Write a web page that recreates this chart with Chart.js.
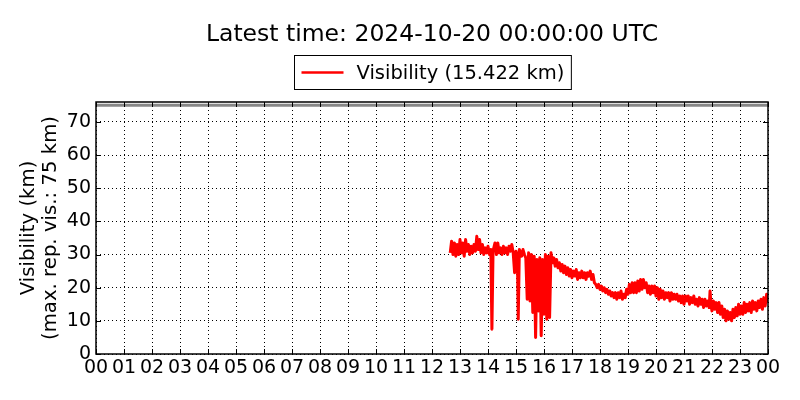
<!DOCTYPE html>
<html>
<head>
<meta charset="utf-8">
<script src="https://cdn.jsdelivr.net/npm/chart.js@4.4.1/dist/chart.umd.min.js"></script>
<style>
html, body { margin: 0; padding: 0; background: #fff; }
</style>
</head>
<body>
<canvas id="visChart" width="800" height="400"></canvas>
<script>
// time of day in hours (UTC) and visibility in km
const hours = [
    12.65, 12.70, 12.75, 12.80, 12.85, 12.90, 12.95, 13.00, 13.05, 13.10,
    13.15, 13.20, 13.25, 13.30, 13.35, 13.40, 13.45, 13.50, 13.55, 13.60,
    13.65, 13.70, 13.75, 13.80, 13.85, 13.90, 13.95, 14.00, 14.05, 14.10,
    14.14, 14.18, 14.25, 14.30, 14.35, 14.40, 14.45, 14.50, 14.55, 14.60,
    14.65, 14.70, 14.75, 14.80, 14.85, 14.90, 14.95, 15.00, 15.05, 15.08,
    15.12, 15.20, 15.25, 15.30, 15.35, 15.40, 15.45, 15.50, 15.55, 15.60,
    15.65, 15.70, 15.75, 15.80, 15.85, 15.90, 15.95, 16.00, 16.05, 16.10,
    16.15, 16.20, 16.25, 16.30, 16.35, 16.40, 16.45, 16.50, 16.55, 16.60,
    16.65, 16.70, 16.75, 16.80, 16.85, 16.90, 16.95, 17.00, 17.05, 17.10,
    17.15, 17.20, 17.25, 17.30, 17.35, 17.40, 17.45, 17.50, 17.55, 17.60,
    17.65, 17.70, 17.75, 17.80, 17.85, 17.90, 17.95, 18.00, 18.05, 18.10,
    18.15, 18.20, 18.25, 18.30, 18.35, 18.40, 18.45, 18.50, 18.55, 18.60,
    18.65, 18.70, 18.75, 18.80, 18.85, 18.90, 18.95, 19.00, 19.05, 19.10,
    19.15, 19.20, 19.25, 19.30, 19.35, 19.40, 19.45, 19.50, 19.55, 19.60,
    19.65, 19.70, 19.75, 19.80, 19.85, 19.90, 19.95, 20.00, 20.05, 20.10,
    20.15, 20.20, 20.25, 20.30, 20.35, 20.40, 20.45, 20.50, 20.55, 20.60,
    20.65, 20.70, 20.75, 20.80, 20.85, 20.90, 20.95, 21.00, 21.05, 21.10,
    21.15, 21.20, 21.25, 21.30, 21.35, 21.40, 21.45, 21.50, 21.55, 21.60,
    21.65, 21.70, 21.75, 21.80, 21.85, 21.90, 21.93, 21.97, 22.00, 22.05,
    22.10, 22.15, 22.20, 22.25, 22.30, 22.35, 22.40, 22.45, 22.50, 22.55,
    22.60, 22.65, 22.70, 22.75, 22.80, 22.85, 22.90, 22.95, 23.00, 23.05,
    23.10, 23.15, 23.20, 23.25, 23.30, 23.35, 23.40, 23.45, 23.50, 23.55,
    23.60, 23.65, 23.70, 23.75, 23.80, 23.85, 23.90, 23.95, 24.00
];
const visKm = [
    30.5, 34.0, 30.0, 33.5, 29.5, 33.0, 30.0, 34.5, 30.5, 33.5,
    29.5, 34.5, 31.0, 33.0, 30.0, 32.5, 30.5, 33.0, 31.0, 35.5,
    31.5, 34.5, 30.5, 33.0, 30.0, 32.0, 30.5, 32.5, 30.0, 31.5,
    7.5, 31.0, 33.5, 30.0, 33.5, 30.5, 32.0, 30.0, 32.5, 30.5,
    32.0, 30.0, 32.5, 31.0, 33.0, 30.5, 24.5, 31.0, 29.5, 10.5,
    31.5, 29.5, 31.5, 30.0, 29.0, 16.5, 30.5, 16.0, 30.0, 12.5,
    29.5, 5.0, 28.5, 13.0, 29.0, 5.5, 28.5, 12.0, 30.0, 10.5,
    29.5, 11.0, 30.5, 27.5, 29.0, 26.5, 28.5, 26.0, 27.5, 25.0,
    27.0, 24.5, 26.5, 24.0, 26.0, 23.5, 25.5, 23.0, 25.0, 23.5,
    25.5, 22.5, 24.5, 23.0, 25.0, 23.0, 24.5, 22.5, 24.5, 23.5,
    25.0, 22.5, 24.0, 21.5, 21.0, 20.0, 21.0, 19.5, 20.5, 19.0,
    20.0, 18.5, 19.5, 18.0, 19.0, 17.5, 18.5, 17.0, 18.5, 16.5,
    18.5, 17.0, 19.0, 16.5, 18.0, 17.0, 19.5, 18.0, 21.0, 18.5,
    21.5, 18.5, 21.5, 18.5, 22.0, 19.0, 22.5, 19.5, 22.5, 20.0,
    21.5, 18.5, 20.5, 18.0, 20.5, 18.5, 20.5, 17.5, 20.0, 16.5,
    19.5, 17.0, 19.0, 16.5, 18.5, 17.0, 18.5, 16.0, 18.5, 16.5,
    18.0, 16.5, 18.0, 16.0, 17.5, 15.5, 17.5, 15.0, 17.5, 16.0,
    17.5, 15.0, 17.0, 15.5, 17.5, 15.0, 16.5, 14.5, 17.0, 15.0,
    16.5, 14.0, 16.5, 14.5, 16.0, 14.0, 19.0, 14.5, 13.0, 16.0,
    13.5, 15.5, 12.5, 15.5, 12.0, 14.5, 11.0, 13.5, 10.0, 13.0,
    10.5, 12.5, 10.0, 13.5, 11.0, 14.0, 11.5, 15.0, 12.0, 14.5,
    12.0, 15.5, 12.5, 15.0, 13.0, 15.5, 12.5, 16.0, 13.5, 15.5,
    13.0, 16.0, 14.0, 16.5, 13.5, 17.0, 14.5, 18.0, 15.422
];
const maxRepVis = 75;
const yTickValues = [0, 10, 20, 30, 40, 50, 60, 70];

const titleText = "Latest time: 2024-10-20 00:00:00 UTC";
const legendText = "Visibility (15.422 km)";
const yTitleLines = ["Visibility (km)", "(max. rep. vis.: 75 km)"];

const fontFamily = "'DejaVu Sans', sans-serif";
Chart.defaults.font.family = fontFamily;
Chart.defaults.color = "#000";

const pad2 = v => String(Math.round(v) % 24).padStart(2, "0");

// frame, inner ticks, title, legend box and y title (matplotlib look)
const decorPlugin = {
    id: "decor",
    afterDraw(chart) {
        const { ctx, chartArea: a, scales } = chart;
        const cx = (a.left + a.right) / 2;
        ctx.save();

        ctx.strokeStyle = "#000";
        ctx.lineWidth = 1;
        ctx.beginPath();
        scales.x.ticks.forEach(t => {
            const px = Math.round(scales.x.getPixelForValue(t.value)) + 0.5;
            ctx.moveTo(px, a.bottom); ctx.lineTo(px, a.bottom - 5);
            ctx.moveTo(px, a.top); ctx.lineTo(px, a.top + 5);
        });
        scales.y.ticks.forEach(t => {
            const py = Math.round(scales.y.getPixelForValue(t.value)) + 0.5;
            ctx.moveTo(a.left, py); ctx.lineTo(a.left + 5, py);
            ctx.moveTo(a.right, py); ctx.lineTo(a.right - 5, py);
        });
        ctx.stroke();

        ctx.lineWidth = 1.5;
        ctx.strokeRect(a.left, a.top, a.right - a.left, a.bottom - a.top);

        ctx.fillStyle = "#000";
        ctx.textAlign = "center";
        ctx.textBaseline = "middle";
        ctx.font = "23.5px " + fontFamily;
        ctx.fillText(titleText, cx, 35);

        // legend
        ctx.font = "19.5px " + fontFamily;
        const tw = ctx.measureText(legendText).width;
        const boxW = tw + 69, boxH = 34;
        const bx = Math.round(cx - boxW / 2) + 0.5, by = 55.5;
        ctx.lineWidth = 1;
        ctx.fillStyle = "#fff";
        ctx.fillRect(bx, by, boxW, boxH);
        ctx.strokeRect(bx, by, boxW, boxH);
        ctx.strokeStyle = "#ff0000";
        ctx.lineWidth = 2.5;
        ctx.beginPath();
        ctx.moveTo(bx + 7, by + boxH / 2);
        ctx.lineTo(bx + 49, by + boxH / 2);
        ctx.stroke();
        ctx.fillStyle = "#000";
        ctx.textAlign = "left";
        ctx.fillText(legendText, bx + 62, by + boxH / 2 + 1);

        // y axis title
        ctx.font = "19.7px " + fontFamily;
        ctx.textAlign = "center";
        ctx.translate(29, (a.top + a.bottom) / 2);
        ctx.rotate(-Math.PI / 2);
        ctx.fillText(yTitleLines[0], 0, 0);
        ctx.fillText(yTitleLines[1], 0, 21.5);
        ctx.restore();
    }
};

new Chart(document.getElementById("visChart"), {
    type: "line",
    data: {
        datasets: [
            {
                label: legendText,
                data: hours.map((h, i) => ({ x: h, y: visKm[i] })),
                borderColor: "#ff0000",
                borderWidth: 3,
                borderJoinStyle: "round",
                pointRadius: 0,
                tension: 0
            },
            {
                label: "max",
                data: [{ x: 0, y: maxRepVis }, { x: 24, y: maxRepVis }],
                borderColor: "#888888",
                borderWidth: 3,
                pointRadius: 0
            }
        ]
    },
    options: {
        responsive: false,
        animation: false,
        layout: { padding: { left: 0, right: 32, top: 102, bottom: 0 } },
        plugins: { legend: { display: false }, tooltip: { enabled: false } },
        scales: {
            x: {
                type: "linear",
                min: 0,
                max: 24,
                ticks: { stepSize: 1, autoSkip: false, maxRotation: 0, padding: 3,
                         font: { size: 19 }, color: "#000", callback: v => pad2(v) },
                grid: { color: "#000", lineWidth: 1, drawTicks: false },
                border: { display: false, dash: [1, 3] },
                afterFit: s => { s.height = 46; }
            },
            y: {
                min: 0,
                max: 76,
                afterBuildTicks: s => { s.ticks = yTickValues.map(v => ({ value: v })); },
                ticks: { padding: 5, font: { size: 19 }, color: "#000" },
                grid: { color: "#000", lineWidth: 1, drawTicks: false },
                border: { display: false, dash: [1, 3] },
                afterFit: s => { s.width = 96; }
            }
        }
    },
    plugins: [decorPlugin]
});
</script>
</body>
</html>
